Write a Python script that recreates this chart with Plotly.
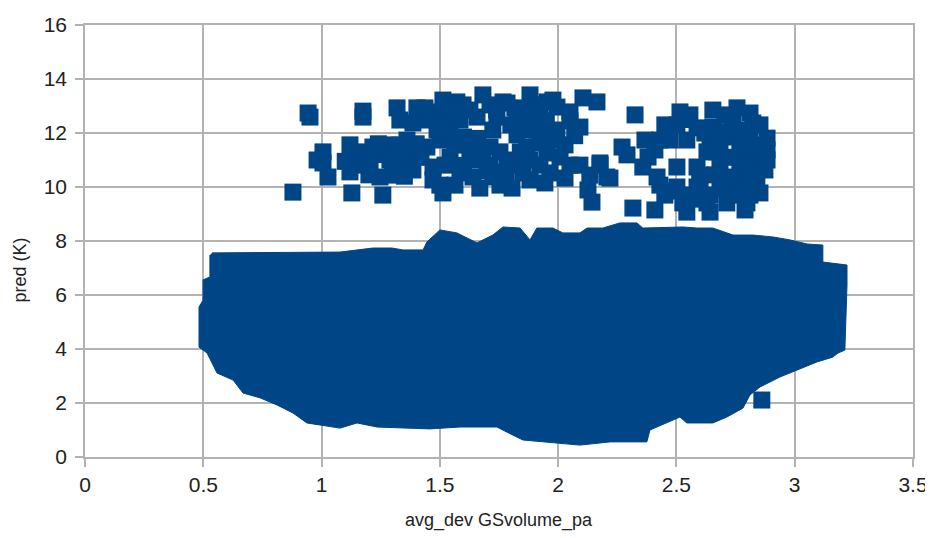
import plotly.graph_objects as go

# main dense cloud: outline of the filled region (x, y)
blob_x = [0.537, 1.078, 1.217, 1.298, 1.344, 1.429, 1.445, 1.500, 1.572, 1.657,
          1.724, 1.767, 1.839, 1.881, 1.910, 1.978, 2.020, 2.092, 2.122, 2.189,
          2.261, 2.333, 2.358, 2.460, 2.527, 2.587, 2.654, 2.739, 2.823, 2.908,
          2.980, 3.052, 3.119, 3.119, 3.221, 3.221, 3.212, 3.183, 3.161, 3.094,
          3.009, 2.937, 2.853, 2.811, 2.781, 2.713, 2.654, 2.544, 2.515, 2.388,
          2.375, 2.219, 2.092, 1.923, 1.851, 1.809, 1.741, 1.585, 1.458, 1.234,
          1.150, 1.078, 0.938, 0.879, 0.811, 0.740, 0.668, 0.626, 0.558, 0.516,
          0.482, 0.482, 0.499, 0.499, 0.528, 0.528]
blob_y = [7.56, 7.59, 7.74, 7.74, 7.67, 7.67, 7.96, 8.41, 8.30, 7.93,
          8.22, 8.52, 8.48, 8.04, 8.48, 8.48, 8.30, 8.30, 8.48, 8.48,
          8.67, 8.67, 8.48, 8.52, 8.52, 8.48, 8.48, 8.22, 8.22, 8.15,
          8.04, 7.89, 7.85, 7.22, 7.11, 6.37, 3.96, 3.85, 3.70, 3.52,
          3.22, 2.96, 2.59, 2.30, 1.81, 1.48, 1.26, 1.26, 1.48, 1.00,
          0.56, 0.56, 0.44, 0.56, 0.63, 0.81, 1.11, 1.11, 1.04, 1.11,
          1.26, 1.07, 1.26, 1.63, 1.93, 2.19, 2.37, 2.85, 3.11, 3.85,
          4.07, 5.56, 5.81, 6.56, 6.67, 7.48]

# upper group of points and a few loose ones
pts_x = [0.951, 0.943, 1.175, 1.175, 1.319, 1.403, 1.488, 1.386, 1.513, 1.445,
         1.006, 1.006, 1.027, 0.981, 0.879, 1.128, 1.259, 1.162, 1.154, 1.217,
         1.289, 1.289, 1.247, 1.361, 1.361, 1.386, 1.445, 1.471, 1.471, 1.513,
         1.500, 1.572, 1.682, 1.767, 1.881, 1.953, 1.995, 2.050, 2.105, 2.164,
         2.092, 1.530, 1.585, 1.657, 1.741, 1.826, 1.910, 1.543, 1.724, 1.851,
         1.615, 1.712, 1.868, 1.923, 1.543, 1.669, 1.784, 1.881, 1.953, 2.008,
         2.050, 2.177, 2.206, 1.585, 1.640, 1.724, 1.851, 1.965, 1.805, 2.126,
         2.143, 2.325, 2.515, 2.654, 2.756, 2.811, 2.502, 2.587, 2.654, 2.739,
         2.823, 2.270, 2.291, 2.367, 2.430, 2.473, 2.544, 2.642, 2.726, 2.811,
         2.883, 2.883, 2.380, 2.358, 2.629, 2.671, 2.768, 2.840, 2.418, 2.502,
         2.587, 2.684, 2.768, 2.502, 2.587, 2.684, 2.768, 2.840, 2.853, 2.527,
         2.629, 2.713, 2.798, 2.544, 2.316, 2.409, 2.219, 2.177, 1.784, 1.978,
         1.826, 1.995, 1.488, 1.416, 2.861,
         1.120, 1.120, 1.310, 1.416, 1.522, 1.331, 1.205, 1.331, 1.437, 1.500,
         1.500, 1.598, 1.627, 1.712, 1.817, 1.923, 1.627, 1.564, 1.754, 1.910,
         1.965, 2.029, 1.712, 1.817, 1.923, 1.564, 1.669, 1.754, 1.881, 1.944,
         2.029, 2.092, 2.134, 2.451, 2.557, 2.705, 2.790, 2.853, 2.684, 2.811,
         2.883, 2.874, 2.430, 2.451, 2.557, 2.642, 2.747, 2.811, 2.599, 2.726,
         2.811, 2.790, 2.642, 2.409,
         1.100, 1.200, 1.220, 1.300, 1.350, 1.420, 1.400, 1.330, 1.240,
         1.560, 1.600, 1.660, 1.600, 1.700, 1.780, 1.800, 1.880, 1.950, 1.980,
         2.050, 2.070, 1.740, 1.860, 1.680, 1.840,
         2.550, 2.620, 2.700, 2.780, 2.850, 2.720, 2.800, 2.660, 2.600, 2.700,
         2.800, 2.500, 2.600]
pts_y = [12.59, 12.74, 12.81, 12.59, 12.93, 12.93, 12.78, 12.37, 13.22, 12.48,
         11.30, 10.89, 10.37, 11.00, 9.81, 9.78, 9.70, 11.30, 10.81, 11.48,
         11.56, 11.00, 10.37, 11.74, 11.00, 10.63, 11.48, 10.74, 10.26, 9.78,
         11.74, 13.15, 13.41, 13.15, 13.41, 13.15, 12.96, 12.78, 13.30, 13.15,
         12.22, 12.59, 12.48, 12.59, 12.59, 12.59, 12.59, 12.11, 12.11, 12.11,
         11.56, 11.48, 11.48, 11.63, 11.11, 11.00, 11.00, 11.00, 11.26, 11.11,
         10.81, 10.81, 10.37, 10.52, 10.37, 10.37, 10.52, 10.52, 9.96, 9.89,
         9.44, 12.67, 12.78, 12.85, 12.93, 12.74, 12.30, 12.19, 12.22, 12.37,
         12.37, 11.48, 11.19, 11.74, 11.74, 11.74, 11.74, 11.85, 11.85, 11.85,
         11.81, 11.37, 11.11, 10.74, 11.30, 11.30, 11.30, 11.11, 10.37, 10.74,
         10.74, 10.74, 10.74, 10.00, 10.00, 10.00, 10.15, 10.15, 9.78, 9.41,
         9.41, 9.41, 9.41, 9.07, 9.22, 9.15, 10.33, 10.89, 13.11, 13.22,
         11.93, 12.11, 12.11, 11.19, 2.11,
         11.56, 10.56, 10.44, 11.37, 10.81, 11.19, 10.70, 12.48, 12.93, 12.19,
         10.07, 13.04, 12.85, 13.04, 12.93, 13.04, 11.37, 11.56, 11.30, 12.11,
         11.74, 11.56, 10.81, 10.81, 10.81, 10.07, 9.96, 10.07, 10.26, 10.15,
         10.33, 10.81, 10.44, 12.30, 12.67, 12.67, 12.11, 12.30, 11.56, 11.00,
         11.00, 10.63, 10.07, 9.70, 9.70, 9.70, 9.70, 9.70, 10.44, 10.37,
         10.44, 9.15, 9.07, 11.37,
         10.95, 10.45, 11.20, 10.80, 10.40, 11.10, 11.60, 11.55, 11.60,
         12.85, 11.85, 11.80, 10.80, 10.60, 10.55, 12.30, 12.35, 12.45, 11.95,
         12.45, 11.90, 12.85, 12.85, 11.20, 11.30,
         12.50, 12.00, 12.05, 11.55, 11.55, 11.10, 10.85, 10.45, 10.20, 9.95,
         9.95, 9.85, 9.55]

BLUE = '#004586'
GRID = '#b3b3b3'
FONT = 'Liberation Sans, Arial, sans-serif'

fig = go.Figure()

fig.add_trace(go.Scatter(
    x=blob_x, y=blob_y,
    mode='lines',
    fill='toself',
    fillcolor=BLUE,
    line=dict(color=BLUE, width=1),
    hoverinfo='skip',
    showlegend=False
))

fig.add_trace(go.Scatter(
    x=pts_x, y=pts_y,
    mode='markers',
    marker=dict(symbol='square', size=17, color=BLUE, line=dict(width=0)),
    showlegend=False
))

tick_font = dict(family=FONT, size=21, color='#222222')
title_font = dict(family=FONT, size=18, color='#222222')

axis_style = dict(
    automargin=False,
    showgrid=True,
    gridcolor=GRID,
    gridwidth=1.5,
    zeroline=False,
    showline=True,
    linecolor=GRID,
    linewidth=1.5,
    mirror=True,
    ticks='outside',
    ticklen=8,
    tickcolor=GRID,
    tickwidth=1.5,
    tickfont=tick_font,
)

# page body adds an 8px offset, so the figure is a bit smaller than the window
fig.update_layout(
    template='none',
    width=925,
    height=530,
    margin=dict(l=77, r=20, t=17, b=81),
    plot_bgcolor='white',
    paper_bgcolor='white',
    font=tick_font,
    xaxis=dict(
        range=[0, 3.5],
        tickvals=[0, 0.5, 1, 1.5, 2, 2.5, 3, 3.5],
        ticktext=['0', '0.5', '1', '1.5', '2', '2.5', '3', '3.5'],
        **axis_style
    ),
    yaxis=dict(
        range=[0, 16],
        dtick=2,
        ticklabelstandoff=4,
        **axis_style
    ),
    annotations=[
        dict(text='avg_dev GSvolume_pa', xref='paper', yref='paper',
             x=0.5, y=-0.148, xanchor='center', yanchor='middle',
             showarrow=False, font=title_font),
        dict(text='pred (K)', xref='paper', yref='paper',
             x=-0.079, y=0.433, xanchor='center', yanchor='middle', textangle=-90,
             showarrow=False, font=title_font),
    ],
)

fig.write_html("out.html")
